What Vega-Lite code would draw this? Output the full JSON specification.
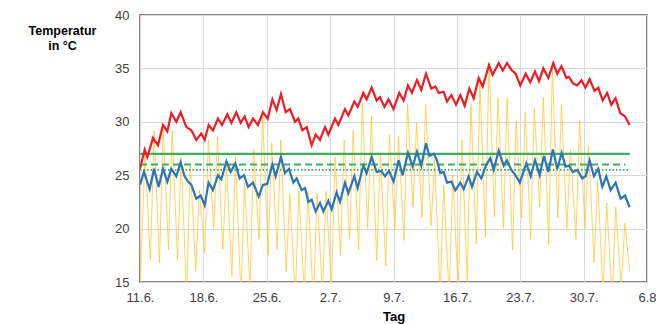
{
  "$schema": "https://vega.github.io/schema/vega-lite/v6.json",
  "width": 507,
  "height": 267,
  "autosize": "none",
  "padding": {"left": 140, "top": 15, "right": 9, "bottom": 42},
  "background": "white",
  "config": {
    "font": "Liberation Sans",
    "view": {"stroke": "#5f5f5f", "strokeWidth": 1.5},
    "axis": {"labelFont": "Liberation Sans", "labelFontSize": 13, "labelColor": "#404040", "titleFont": "Liberation Sans", "titleColor": "#000000", "gridColor": "#d9d9d9", "gridWidth": 1, "domain": false, "ticks": false}
  },
  "datasets": {
    "innenMax": [
      {"d":0,"v":25.6},{"d":0.52,"v":27.4},{"d":0.81,"v":26.7},{"d":1.44,"v":28.5},{"d":1.99,"v":27.8},{"d":2.54,"v":29.7},{"d":3.02,"v":29.1},{"d":3.46,"v":30.8},{"d":4.01,"v":30.0},{"d":4.49,"v":30.9},{"d":5.12,"v":29.5},{"d":5.67,"v":29.2},{"d":6.22,"v":28.3},{"d":6.77,"v":28.9},{"d":7.14,"v":28.3},{"d":7.58,"v":29.7},{"d":8.06,"v":29.2},{"d":8.61,"v":30.3},{"d":9.06,"v":29.7},{"d":9.65,"v":30.7},{"d":10.09,"v":29.9},{"d":10.64,"v":30.9},{"d":11.12,"v":29.9},{"d":11.56,"v":30.5},{"d":12.0,"v":29.5},{"d":12.48,"v":30.3},{"d":13.03,"v":29.7},{"d":13.58,"v":30.9},{"d":14.1,"v":30.3},{"d":14.62,"v":32.1},{"d":15.09,"v":31.1},{"d":15.57,"v":32.6},{"d":16.09,"v":30.9},{"d":16.57,"v":31.2},{"d":17.12,"v":30.0},{"d":17.49,"v":30.3},{"d":17.93,"v":29.2},{"d":18.41,"v":29.5},{"d":18.96,"v":27.8},{"d":19.4,"v":28.8},{"d":19.88,"v":28.3},{"d":20.43,"v":29.5},{"d":20.8,"v":28.8},{"d":21.54,"v":30.3},{"d":21.9,"v":29.7},{"d":22.64,"v":31.2},{"d":23.01,"v":30.6},{"d":23.67,"v":31.9},{"d":24.04,"v":31.4},{"d":24.67,"v":32.7},{"d":25.03,"v":32.1},{"d":25.59,"v":33.2},{"d":26.14,"v":32.0},{"d":26.5,"v":32.3},{"d":27.0,"v":31.4},{"d":27.45,"v":32.1},{"d":28.0,"v":31.2},{"d":28.64,"v":32.7},{"d":29.12,"v":32.0},{"d":29.6,"v":33.4},{"d":30.04,"v":32.7},{"d":30.59,"v":33.9},{"d":31.07,"v":33.0},{"d":31.59,"v":34.5},{"d":32.18,"v":33.1},{"d":32.62,"v":33.3},{"d":32.99,"v":32.7},{"d":33.54,"v":32.8},{"d":33.91,"v":31.9},{"d":34.39,"v":32.5},{"d":34.9,"v":31.6},{"d":35.38,"v":32.5},{"d":35.86,"v":31.5},{"d":36.38,"v":33.1},{"d":36.86,"v":32.2},{"d":37.41,"v":34.1},{"d":37.85,"v":33.3},{"d":38.55,"v":35.3},{"d":38.95,"v":34.4},{"d":39.62,"v":35.5},{"d":40.06,"v":34.8},{"d":40.54,"v":35.5},{"d":41.09,"v":34.8},{"d":41.5,"v":34.5},{"d":42.0,"v":33.4},{"d":42.6,"v":34.5},{"d":43.1,"v":33.7},{"d":43.63,"v":34.7},{"d":44.07,"v":33.8},{"d":44.55,"v":35.0},{"d":45.1,"v":34.1},{"d":45.65,"v":35.5},{"d":46.09,"v":34.5},{"d":46.55,"v":35.2},{"d":47.1,"v":34.1},{"d":47.38,"v":34.2},{"d":47.82,"v":33.6},{"d":48.3,"v":33.4},{"d":48.75,"v":33.9},{"d":49.2,"v":33.2},{"d":49.66,"v":34.0},{"d":50.2,"v":32.9},{"d":50.62,"v":33.2},{"d":51.1,"v":32.0},{"d":51.6,"v":32.7},{"d":52.05,"v":31.6},{"d":52.53,"v":32.2},{"d":53.05,"v":30.8},{"d":53.57,"v":30.5},{"d":54.08,"v":29.7}
    ],
    "innenMittel": [
      {"d":0,"v":24.1},{"d":0.44,"v":25.3},{"d":1.07,"v":23.7},{"d":1.55,"v":25.6},{"d":2.06,"v":23.9},{"d":2.54,"v":25.6},{"d":3.02,"v":24.4},{"d":3.46,"v":25.6},{"d":4.01,"v":24.9},{"d":4.49,"v":26.2},{"d":4.93,"v":24.9},{"d":5.3,"v":24.4},{"d":5.67,"v":24.1},{"d":6.22,"v":22.8},{"d":6.7,"v":23.1},{"d":7.14,"v":22.2},{"d":7.58,"v":24.3},{"d":8.06,"v":23.6},{"d":8.61,"v":25.0},{"d":8.98,"v":24.6},{"d":9.54,"v":26.3},{"d":10.01,"v":25.3},{"d":10.53,"v":26.1},{"d":11.01,"v":24.7},{"d":11.49,"v":25.0},{"d":11.93,"v":23.9},{"d":12.48,"v":24.3},{"d":13.11,"v":23.0},{"d":13.58,"v":24.1},{"d":14.06,"v":24.2},{"d":14.62,"v":26.0},{"d":14.98,"v":24.9},{"d":15.57,"v":26.7},{"d":16.01,"v":25.2},{"d":16.46,"v":25.6},{"d":16.94,"v":24.3},{"d":17.3,"v":24.7},{"d":17.86,"v":23.6},{"d":18.23,"v":23.8},{"d":18.59,"v":22.5},{"d":18.96,"v":22.7},{"d":19.4,"v":21.6},{"d":19.88,"v":22.4},{"d":20.25,"v":21.6},{"d":20.8,"v":22.6},{"d":21.17,"v":21.8},{"d":21.72,"v":23.4},{"d":22.09,"v":22.5},{"d":22.64,"v":24.3},{"d":23.01,"v":23.3},{"d":23.67,"v":24.9},{"d":24.04,"v":23.8},{"d":24.67,"v":25.9},{"d":25.03,"v":25.2},{"d":25.59,"v":26.7},{"d":26.14,"v":25.3},{"d":26.62,"v":25.4},{"d":27.06,"v":24.9},{"d":27.5,"v":25.4},{"d":28.0,"v":24.4},{"d":28.57,"v":26.4},{"d":29.01,"v":25.0},{"d":29.6,"v":27.1},{"d":30.12,"v":25.8},{"d":30.59,"v":27.2},{"d":31.07,"v":25.9},{"d":31.59,"v":28.0},{"d":31.96,"v":26.8},{"d":32.44,"v":27.0},{"d":32.8,"v":26.4},{"d":33.17,"v":25.2},{"d":33.54,"v":25.3},{"d":33.91,"v":24.3},{"d":34.39,"v":24.4},{"d":34.83,"v":23.6},{"d":35.38,"v":24.3},{"d":35.75,"v":23.7},{"d":36.3,"v":24.9},{"d":36.67,"v":23.9},{"d":37.22,"v":25.3},{"d":37.7,"v":24.7},{"d":38.21,"v":25.9},{"d":38.69,"v":26.6},{"d":39.06,"v":25.5},{"d":39.62,"v":27.3},{"d":40.17,"v":25.9},{"d":40.53,"v":26.4},{"d":41.01,"v":25.5},{"d":41.46,"v":25.0},{"d":41.95,"v":24.3},{"d":42.67,"v":26.1},{"d":43.15,"v":24.9},{"d":43.63,"v":26.4},{"d":44.15,"v":25.0},{"d":44.62,"v":26.8},{"d":45.1,"v":25.3},{"d":45.61,"v":27.4},{"d":46.09,"v":25.6},{"d":46.57,"v":27.1},{"d":47.01,"v":25.8},{"d":47.38,"v":25.9},{"d":47.82,"v":25.3},{"d":48.3,"v":25.5},{"d":48.85,"v":24.7},{"d":49.22,"v":24.9},{"d":49.66,"v":26.4},{"d":50.14,"v":24.9},{"d":50.62,"v":25.6},{"d":51.06,"v":23.9},{"d":51.5,"v":24.9},{"d":51.98,"v":23.6},{"d":52.53,"v":24.3},{"d":53.09,"v":22.8},{"d":53.57,"v":23.1},{"d":54.08,"v":22.0}
    ],
    "aussen": [
      {"d":0,"v":14},{"d":0.55,"v":27},{"d":1.15,"v":17},{"d":1.55,"v":29.2},{"d":2.15,"v":16.8},{"d":2.55,"v":29.5},{"d":3.15,"v":18},{"d":3.55,"v":29.2},{"d":4.15,"v":17},{"d":4.55,"v":26.7},{"d":5.15,"v":13.5},{"d":5.55,"v":26.1},{"d":6.15,"v":16},{"d":6.55,"v":23.6},{"d":7.15,"v":17.7},{"d":7.55,"v":28.3},{"d":8.15,"v":20},{"d":8.55,"v":28.6},{"d":9.15,"v":18},{"d":9.55,"v":26},{"d":10.15,"v":15.5},{"d":10.55,"v":26.7},{"d":11.15,"v":13.5},{"d":11.55,"v":24.3},{"d":12.15,"v":14.5},{"d":12.55,"v":27.4},{"d":13.15,"v":19},{"d":13.55,"v":30.6},{"d":14.15,"v":17.5},{"d":14.55,"v":28},{"d":15.15,"v":18},{"d":15.55,"v":28.3},{"d":16.15,"v":16},{"d":16.55,"v":23.3},{"d":17.15,"v":13.5},{"d":17.55,"v":23.5},{"d":18.15,"v":14},{"d":18.55,"v":23.5},{"d":19.15,"v":13},{"d":19.55,"v":23.3},{"d":20.15,"v":14},{"d":20.55,"v":23.5},{"d":21.15,"v":14.5},{"d":21.55,"v":26.7},{"d":22.15,"v":17.5},{"d":22.55,"v":28.3},{"d":23.15,"v":19},{"d":23.55,"v":29.2},{"d":24.15,"v":18},{"d":24.55,"v":31.7},{"d":25.15,"v":20},{"d":25.55,"v":30.5},{"d":26.15,"v":17},{"d":26.55,"v":27.1},{"d":27.15,"v":16.5},{"d":27.55,"v":28.8},{"d":28.15,"v":19.9},{"d":28.55,"v":28.7},{"d":29.15,"v":18.9},{"d":29.55,"v":31.7},{"d":30.15,"v":22},{"d":30.55,"v":29.9},{"d":31.15,"v":21},{"d":31.55,"v":31.6},{"d":32.15,"v":20.3},{"d":32.55,"v":26.4},{"d":33.15,"v":14},{"d":33.55,"v":24},{"d":34.15,"v":13.5},{"d":34.55,"v":25},{"d":35.15,"v":14},{"d":35.55,"v":28.3},{"d":36.15,"v":15},{"d":36.55,"v":31.7},{"d":37.15,"v":18.6},{"d":37.55,"v":33.7},{"d":38.15,"v":19.2},{"d":38.55,"v":35.6},{"d":39.15,"v":21.1},{"d":39.55,"v":32.3},{"d":40.15,"v":20},{"d":40.55,"v":32.2},{"d":41.15,"v":18},{"d":41.55,"v":30.1},{"d":42.15,"v":21},{"d":42.55,"v":30.9},{"d":43.15,"v":19},{"d":43.55,"v":31.3},{"d":44.15,"v":22},{"d":44.55,"v":32.3},{"d":45.15,"v":18.5},{"d":45.55,"v":35.0},{"d":46.15,"v":21},{"d":46.55,"v":31.6},{"d":47.15,"v":20},{"d":47.55,"v":27.4},{"d":48.15,"v":19},{"d":48.55,"v":30.1},{"d":49.15,"v":20},{"d":49.55,"v":27.7},{"d":50.15,"v":16.8},{"d":50.55,"v":24.5},{"d":51.15,"v":14},{"d":51.55,"v":22.4},{"d":52.15,"v":13.5},{"d":52.55,"v":22.0},{"d":53.15,"v":14.5},{"d":53.55,"v":20.5},{"d":54.1,"v":16}
    ],
    "grenzen": [
      {"ref":"27 °C","d":0,"v":27},{"ref":"27 °C","d":54.1,"v":27},
      {"ref":"26 °C","d":0,"v":26},{"ref":"26 °C","d":53.6,"v":26},
      {"ref":"25,5 °C","d":0,"v":25.5},{"ref":"25,5 °C","d":53.9,"v":25.5}
    ]
  },
  "encoding": {
    "x": {"field": "d", "type": "quantitative", "scale": {"domain": [0, 56], "nice": false, "zero": false},
      "axis": {"values": [0,7,14,21,28,35,42,49,56], "labelExpr": "['11.6.','18.6.','25.6.','2.7.','9.7.','16.7.','23.7.','30.7.','6.8'][round(datum.value/7)]", "labelFlush": false, "labelOverlap": false, "labelPadding": 9, "title": "Tag", "titleFontSize": 13, "titleFontWeight": "bold", "titlePadding": 6, "grid": true}},
    "y": {"field": "v", "type": "quantitative", "scale": {"domain": [15, 40], "nice": false, "zero": false},
      "axis": {"values": [15,20,25,30,35,40], "labelPadding": 11, "grid": true, "title": ["Temperatur", "in °C"], "titleAngle": 0, "titleAlign": "center", "titleBaseline": "top", "titleX": -78, "titleY": 9, "titleFontSize": 12.5, "titleFontWeight": "bold", "titleLineHeight": 15}}
  },
  "layer": [
    {"data": {"name": "aussen"}, "mark": {"type": "line", "clip": true, "stroke": "#FFC62A", "strokeWidth": 1, "opacity": 0.75}},
    {"data": {"name": "grenzen"}, "mark": {"type": "line", "clip": true, "stroke": "#3EAD5F"},
      "encoding": {
        "detail": {"field": "ref"},
        "strokeDash": {"field": "ref", "type": "nominal", "scale": {"domain": ["27 °C", "26 °C", "25,5 °C"], "range": [[1, 0], [7, 4], [1.5, 2]]}, "legend": null},
        "strokeWidth": {"field": "ref", "type": "nominal", "scale": {"domain": ["27 °C", "26 °C", "25,5 °C"], "range": [2.2, 1.6, 1.4]}, "legend": null}
      }},
    {"data": {"name": "innenMittel"}, "mark": {"type": "line", "clip": true, "stroke": "#2E75B6", "strokeWidth": 2.2}},
    {"data": {"name": "innenMax"}, "mark": {"type": "line", "clip": true, "stroke": "#EE1C25", "strokeWidth": 2.2}}
  ]
}
